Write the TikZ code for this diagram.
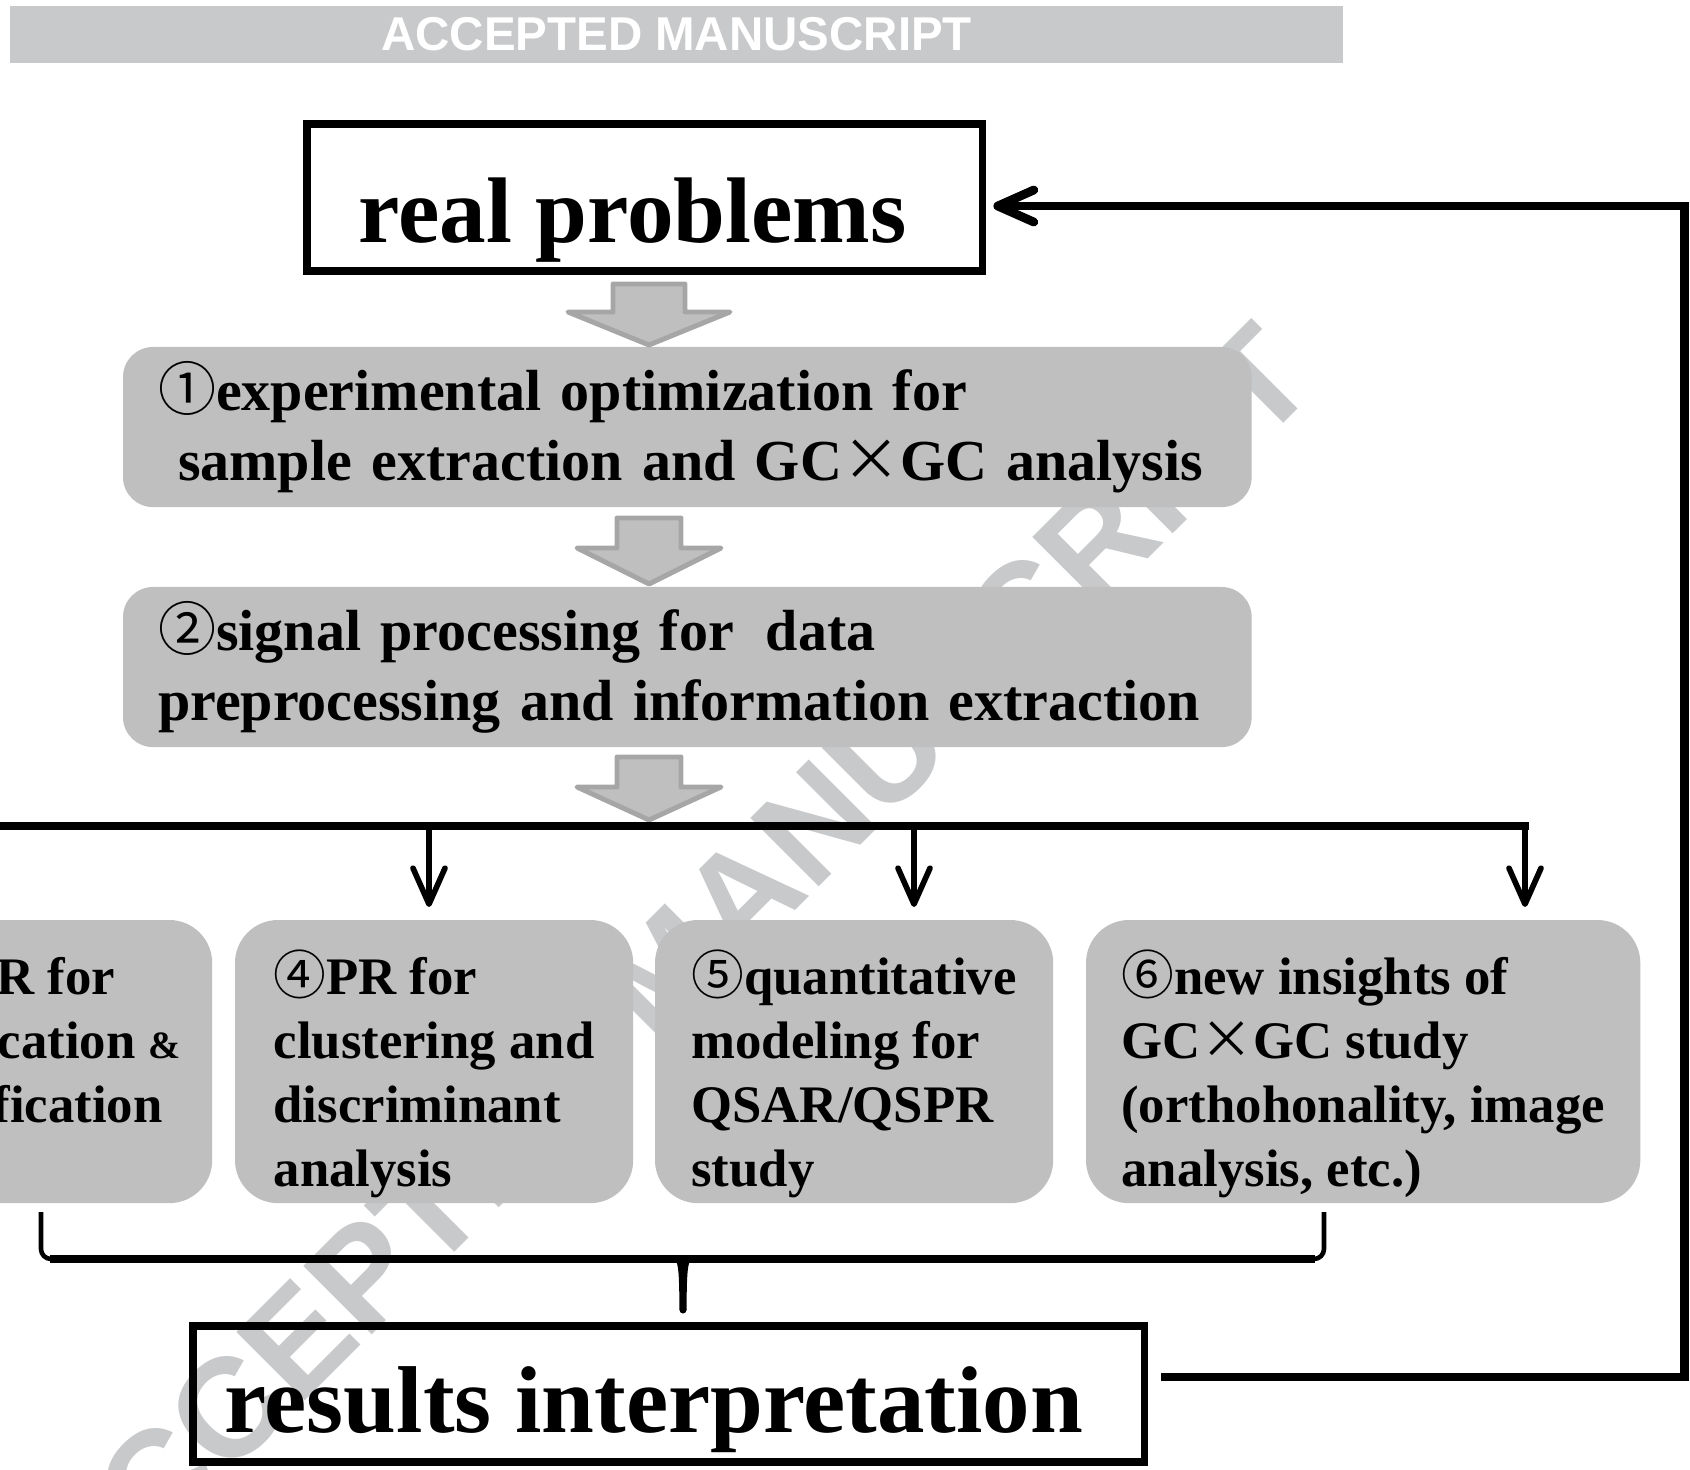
\documentclass[tikz,border=0pt]{standalone}
\usepackage{fontspec}
\setmainfont{Liberation Serif}
\newfontfamily\cjk{Noto Sans CJK SC}
\newfontfamily\wmark{Liberation Sans}
\usetikzlibrary{arrows.meta}

\definecolor{boxgray}{HTML}{BFBFBF}
\definecolor{rimgray}{HTML}{A6A6A6}
\definecolor{markgray}{HTML}{C8C9CB}

\newcommand{\gcx}{GC{\cjk\mdseries\makebox[1em]{×}}GC}
\newcommand{\cnum}[1]{{\cjk\mdseries #1}}

\tikzset{
  >={Straight Barb[length=3.6mm,width=3.2mm,round]},
  titlebox/.style={draw, line width=2.2pt, inner sep=0pt, outer sep=0pt,
    anchor=north west, align=center},
  stepbox/.style={fill=boxgray, rounded corners=0.3cm, inner xsep=0.35cm,
    inner ysep=0pt, outer sep=0pt, anchor=north west, align=left,
    text width=10.58cm, text height=0.63cm, text depth=0.97cm,
    font=\bfseries\fontsize{16.5}{19.9}\selectfont},
  % last baseline sets the height here
  prbox/.style={fill=boxgray, rounded corners=0.43cm, inner sep=0pt,
    outer sep=0pt, anchor=north west, align=left, minimum width=3.98cm,
    text height=2.66cm, text depth=0.17cm,
    font=\bfseries\fontsize{15}{18.2}\selectfont},
  fatarrow/.style={fill=boxgray, draw=rimgray, line width=1.4pt, line join=round},
  bus/.style={line width=2.1pt},
  drop/.style={->, line width=1.6pt, shorten >=0.13cm},
  fb/.style={->, line width=2.5pt},
}

\begin{document}
\begin{tikzpicture}[x=0.01cm, y=-0.01cm]
  \useasboundingbox (0,0) rectangle (1690,1470);
  \clip (0,0) rectangle (1690,1470);

  % watermark, under everything
  \node[rotate=45, text=markgray, font=\wmark\bfseries\fontsize{40}{40}\selectfont]
    (wm) at (668,970) {ACCEPTED MANUSCRIPT};
  \node[fill=markgray, text=white, inner sep=0pt, anchor=north west,
    minimum width=13.33cm, minimum height=0.57cm,
    font=\wmark\bfseries\fontsize{13.5}{14}\selectfont]
    (banner) at (9,5) {ACCEPTED MANUSCRIPT};

  \node[titlebox, minimum width=6.75cm, text height=1.18cm, text depth=0.29cm,
    font=\bfseries\fontsize{26.5}{30}\selectfont]
    (real) at (307,124) {real problems\rule{0.24cm}{0pt}};

  \node[stepbox] (opt) at (123,347)
    {\cnum{①}experimental optimization for\\
     \hspace*{0.2cm}sample extraction and \gcx{} analysis};
  \node[stepbox] (sig) at (123,587)
    {\cnum{②}signal processing for\hspace{0.55em}data\\
     preprocessing and information extraction};

  % block arrows: stem top/shoulder/tip, half stem, half head
  \foreach \ya/\yb/\yc/\s/\h in {284/312/345/36/81, 518/548/584/32/72, 757/787/820/32/72} {
    \draw[fatarrow] ({649-\s},\ya) -- ({649+\s},\ya) -- ({649+\s},\yb) -- ({649+\h},\yb)
      -- (649,\yc) -- ({649-\h},\yb) -- ({649-\s},\yb) -- cycle;
  }

  \node[prbox, align=center, text height=2.02cm, text depth=0.81cm] (pr3) at (-186,920)
    {\cnum{③}PR for\\classification {\fontsize{11}{11}\selectfont\&}\\identification};
  \node[prbox] (pr4) at (235,920)
    {\cnum{④}PR for\\clustering and\\discriminant\\analysis};
  \node[prbox] (qsar) at (655,920)
    {\cnum{⑤}quantitative\\modeling for\\QSAR/QSPR\\study};
  \node[prbox, minimum width=5.54cm] (gcgc) at (1086,920)
    {\cnum{⑥}new insights of\\\gcx{} study\\(orthohonality, image\\analysis, etc.)};

  % distribution line and drops
  \coordinate (busL) at (-20,826);
  \coordinate (busR) at (1529,826);
  \draw[bus] (busL) -- (busR);
  \foreach \x/\b in {429/pr4, 914/qsar, 1525/gcgc} {
    \draw[drop] (\x,826) -- (\x,826 |- \b.north);
  }

  % brace gathering the results
  \draw[line width=1.3pt, rounded corners=0.1cm]
    (41,1212) -- (41,1259) -- (1324,1259) -- (1324,1212);
  \draw[line width=2.3pt] (50,1259) -- (1315,1259);
  \fill (670,1256) .. controls (679,1258) and (679,1268) .. (679.5,1310)
    -- (686.5,1310) .. controls (687,1268) and (687,1258) .. (696,1256) -- cycle;
  \fill (683,1310) circle[radius=3.5];

  \node[titlebox, minimum width=9.51cm, text height=1.06cm, text depth=0.30cm,
    font=\bfseries\fontsize{27}{30}\selectfont]
    (res) at (193,1326) {results interpretation\rule{0.3cm}{0pt}};

  % feedback loop
  \draw[fb] ([shift={(16,-17)}]res.east) -- ++(524,0) |- ([shift={(11,8.5)}]real.east);
\end{tikzpicture}
\end{document}
